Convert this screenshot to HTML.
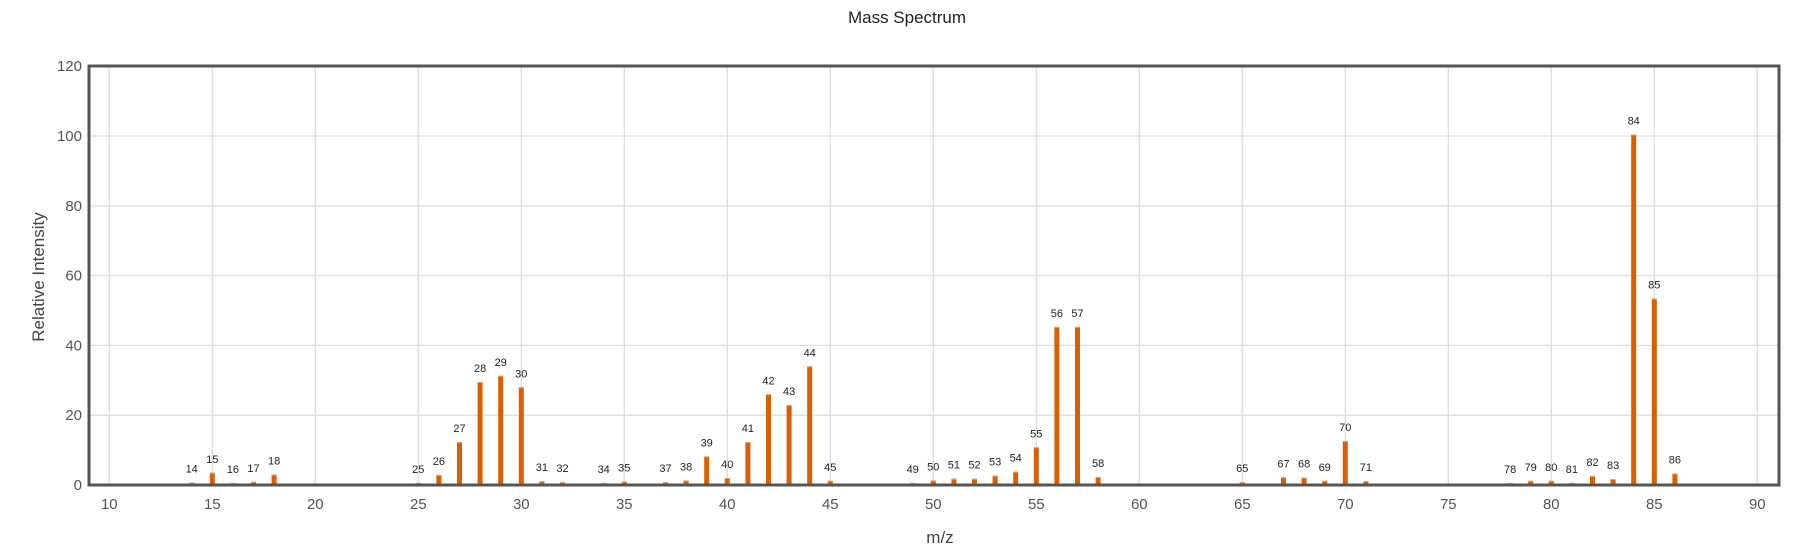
<!DOCTYPE html>
<html><head><meta charset="utf-8"><style>
html,body{margin:0;padding:0;background:#fff;}
svg{display:block;font-family:"Liberation Sans",sans-serif;}
</style></head><body>
<svg id="c" width="1802" height="555" xmlns="http://www.w3.org/2000/svg"></svg>
<script>
const s=document.getElementById('c');
const X=v=>109.3+20.6*(v-10), Y=v=>485-3.49*v;
let h='';
h+='<text x="907" y="23" font-size="17" text-anchor="middle" fill="#222">Mass Spectrum</text>';
for(let v=10;v<=90;v+=5){h+=`<line x1="${X(v)}" x2="${X(v)}" y1="66" y2="485" stroke="#ddd" stroke-width="1.3"/>`;
 h+=`<text x="${X(v)}" y="509" font-size="15" fill="#555" text-anchor="middle">${v}</text>`;}
for(let v=0;v<=120;v+=20){h+=`<line x1="89" x2="1779" y1="${Y(v)}" y2="${Y(v)}" stroke="#ddd" stroke-width="1.3"/>`;
 h+=`<text x="82" y="${Y(v)+5}" font-size="15" fill="#555" text-anchor="end">${v}</text>`;}
const d={14:.7,15:3.5,16:.6,17:.9,18:3,25:.6,26:2.9,27:12.3,28:29.5,29:31.3,30:28,31:1.1,32:.8,34:.6,35:1,37:.8,38:1.3,39:8.2,40:2,41:12.3,42:26,43:22.9,44:34,45:1.2,49:.6,50:1.3,51:1.8,52:1.8,53:2.7,54:3.8,55:10.8,56:45.3,57:45.3,58:2.3,65:.8,67:2.2,68:2.1,69:1.2,70:12.6,71:1.1,78:.6,79:1.2,80:1.2,81:.6,82:2.6,83:1.7,84:100.4,85:53.4,86:3.3};
for(const k in d){const x=X(+k),y=Y(d[k]);
 h+=`<rect x="${x-2.5}" y="${y}" width="5" height="${485-y}" fill="#d95f02"/>`;
 h+=`<rect x="${x-2.5}" y="${y}" width="5" height="1" fill="#ec9a5e"/>`;
 h+=`<text x="${x}" y="${y-10}" font-size="11" fill="#222" text-anchor="middle">${k}</text>`;}
h+='<rect x="89" y="66" width="1690" height="419" fill="none" stroke="#555" stroke-width="3"/>';
h+='<text x="940" y="543" font-size="17" fill="#444" text-anchor="middle">m/z</text>';
h+='<text transform="translate(44,277) rotate(-90)" font-size="17" fill="#444" text-anchor="middle">Relative Intensity</text>';
s.innerHTML=h;
</script>
</body></html>
